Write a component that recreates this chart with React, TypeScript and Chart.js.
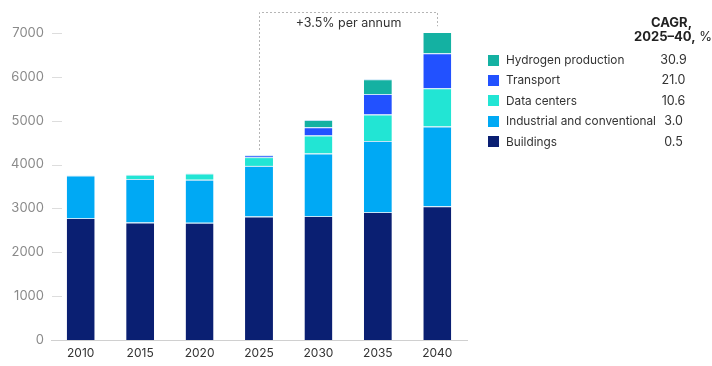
import React, { useEffect, useRef } from "react";
import { Chart, registerables } from "chart.js";

Chart.register(...registerables);

const years = ["2010", "2015", "2020", "2025", "2030", "2035", "2040"];
const buildings = [2780, 2680, 2675, 2815, 2830, 2920, 3050];
const industrial = [970, 990, 980, 1155, 1420, 1620, 1820];
const dataCenters = [0, 100, 140, 200, 415, 600, 870];
const transport = [0, 0, 0, 40, 185, 470, 800];
const hydrogen = [0, 0, 0, 8, 165, 335, 500];

const seriesNames = ["Hydrogen production", "Transport", "Data centers", "Industrial and conventional", "Buildings"];
const seriesColors = ["#14b1a2", "#2251ff", "#22e5d4", "#00a9f4", "#0a1f72"];
const cagrValues = ["30.9", "21.0", "10.6", "3.0", "0.5"];

const yMax = 7000;
const yStep = 1000;
const annotationText = "+3.5% per annum";
const annotationFrom = 3;
const annotationTo = 6;

const FONT = "Inter, 'Noto Sans', Arial, sans-serif";

export default function App() {
  const ref = useRef<HTMLCanvasElement | null>(null);

  useEffect(() => {
    if (!ref.current) return;
    const stacks = [buildings, industrial, dataCenters, transport, hydrogen];
    const totals = years.map((_, i) => stacks.reduce((s, a) => s + a[i], 0));

    const innerTicks = {
      id: "innerTicks",
      afterDraw(chart: any) {
        const { ctx, chartArea, scales } = chart;
        const y = scales.y;
        ctx.save();
        ctx.strokeStyle = "#dddddd";
        ctx.lineWidth = 1;
        y.ticks.forEach((t: any) => {
          if (t.value === 0) return;
          const py = Math.round(y.getPixelForValue(t.value)) + 0.5;
          ctx.beginPath();
          ctx.moveTo(chartArea.left + 1, py);
          ctx.lineTo(chartArea.left + 11, py);
          ctx.stroke();
        });
        ctx.restore();
      },
    };

    const bracket = {
      id: "bracket",
      afterDraw(chart: any) {
        const { ctx, chartArea, scales } = chart;
        const x = scales.x;
        const y = scales.y;
        const x1 = Math.round(x.getPixelForValue(annotationFrom)) + 0.5;
        const x2 = Math.round(x.getPixelForValue(annotationTo)) + 0.5;
        const top = Math.round(chartArea.top - 21) + 0.5;
        const b1 = y.getPixelForValue(totals[annotationFrom]) - 5;
        const b2 = y.getPixelForValue(totals[annotationTo]) - 5;
        ctx.save();
        ctx.strokeStyle = "#b5b5b5";
        ctx.lineWidth = 1;
        ctx.setLineDash([2, 2]);
        ctx.beginPath();
        ctx.moveTo(x1, b1);
        ctx.lineTo(x1, top);
        ctx.lineTo(x2, top);
        ctx.lineTo(x2, b2);
        ctx.stroke();
        ctx.setLineDash([]);
        ctx.fillStyle = "#333333";
        ctx.font = `12.5px ${FONT}`;
        ctx.textAlign = "center";
        ctx.textBaseline = "middle";
        ctx.fillText(annotationText, (x1 + x2) / 2, top + 10.5);
        ctx.restore();
      },
    };

    const mk = (label: string, data: number[], color: string) => ({
      label,
      data,
      backgroundColor: color,
      borderColor: "rgba(190,225,245,0.9)",
      borderWidth: { top: 1, left: 0, right: 0, bottom: 0 },
      borderSkipped: false,
    });

    const chart = new Chart(ref.current, {
      type: "bar",
      data: {
        labels: years,
        datasets: [
          mk(seriesNames[4], buildings, seriesColors[4]),
          mk(seriesNames[3], industrial, seriesColors[3]),
          mk(seriesNames[2], dataCenters, seriesColors[2]),
          mk(seriesNames[1], transport, seriesColors[1]),
          mk(seriesNames[0], hydrogen, seriesColors[0]),
        ] as any,
      },
      options: {
        animation: false,
        responsive: false,
        maintainAspectRatio: false,
        layout: { padding: { left: 0, right: 245, top: 33, bottom: 0 } },
        datasets: { bar: { barPercentage: 0.47, categoryPercentage: 1 } },
        plugins: { legend: { display: false }, tooltip: { enabled: false } },
        scales: {
          x: {
            stacked: true,
            grid: { display: false, drawTicks: false },
            border: { display: true, color: "#d0d0d0", width: 1 },
            ticks: {
              padding: 7,
              color: "#333333",
              font: { family: FONT, size: 12, lineHeight: 1 },
            },
          },
          y: {
            stacked: true,
            min: 0,
            max: yMax,
            afterFit: (scale: any) => {
              scale.width = 51;
            },
            grid: { display: false, drawTicks: false },
            border: { display: false },
            ticks: {
              stepSize: yStep,
              padding: 7,
              color: "#8a8a8a",
              font: { family: FONT, size: 13 },
              callback: (v: any) => String(v),
            },
          },
        },
      } as any,
      plugins: [innerTicks, bracket],
    });
    return () => chart.destroy();
  }, []);

  return (
    <div style={{ position: "fixed", left: 0, top: 0, width: 712, height: 366, background: "#fff", fontFamily: FONT }}>
      <canvas ref={ref} width={712} height={366} style={{ position: "absolute", left: 0, top: 0 }} />
      <div
        style={{
          position: "absolute",
          left: 600,
          top: 15,
          width: 92,
          textAlign: "right",
          fontSize: 13,
          lineHeight: "14px",
          color: "#222",
          fontWeight: 700,
        }}
      >
        CAGR,
      </div>
      <div
        style={{
          position: "absolute",
          left: 600,
          top: 29,
          width: 112,
          textAlign: "right",
          fontSize: 13,
          lineHeight: "14px",
          color: "#222",
          whiteSpace: "nowrap",
        }}
      >
        <span style={{ fontWeight: 700 }}>2025–40,</span> %
      </div>
      {seriesNames.map((name, i) => (
        <div
          key={name}
          style={{ position: "absolute", left: 488, top: 60 + i * 20.4 - 8, height: 16, width: 224, fontSize: 11.8, color: "#333" }}
        >
          <div style={{ position: "absolute", left: 0, top: 2.5, width: 11, height: 11, background: seriesColors[i] }} />
          <div style={{ position: "absolute", left: 18, top: 0, lineHeight: "16px", whiteSpace: "nowrap" }}>{name}</div>
          <div style={{ position: "absolute", left: 165, top: 0, width: 41, textAlign: "center", lineHeight: "16px", fontSize: 12.5 }}>
            {cagrValues[i]}
          </div>
        </div>
      ))}
    </div>
  );
}
